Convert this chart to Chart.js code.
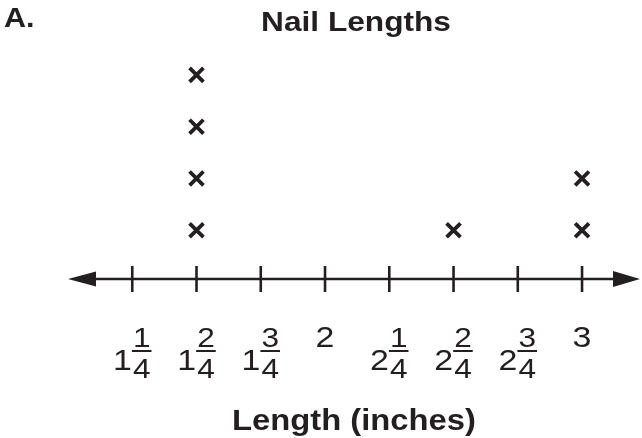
<!DOCTYPE html>
<html>
<head>
<meta charset="utf-8">
<title>Nail Lengths</title>
<script src="https://cdn.jsdelivr.net/npm/chart.js@4/dist/chart.umd.min.js"></script>
<style>
  html, body { margin: 0; padding: 0; background: #fff; }
  #wrap { width: 642px; height: 438px; }
</style>
</head>
<body>
<div id="wrap"><canvas id="plot" width="642" height="438"></canvas></div>
<script>
// --- data ---
const lengths = [1.25, 1.5, 1.75, 2, 2.25, 2.5, 2.75, 3];   // tick values (inches)
const tickWhole = ['1', '1', '1', '2', '2', '2', '2', '3'];
const tickNum = ['1', '2', '3', '', '1', '2', '3', ''];
const tickDen = ['4', '4', '4', '', '4', '4', '4', ''];
const nailCounts = [0, 4, 0, 0, 0, 1, 0, 2];                 // X marks per length

const INK = '#231f20';
const FONT = '"Liberation Sans", Arial, sans-serif';
const SX = 1.13; // the scan is a bit wider than Arial, stretch text to match

// stack of X's: one point per nail
const points = [];
lengths.forEach(function (v, i) {
    for (let k = 1; k <= nailCounts[i]; k++) points.push({ x: v, y: k });
});

function wideText(ctx, str, x, y, font, align) {
    ctx.save();
    ctx.font = font;
    ctx.fillStyle = INK;
    ctx.textAlign = align || 'center';
    ctx.textBaseline = 'alphabetic';
    ctx.translate(x, y);
    ctx.scale(SX, 1);
    ctx.fillText(str, 0, 0);
    ctx.restore();
}

/* number line: arrows + tick marks + mixed-number labels */
const numberLine = {
    id: 'numberLine',
    beforeDatasetsDraw(chart) {
        const ctx = chart.ctx;
        const xs = chart.scales.x;
        const area = chart.chartArea;
        const y0 = 279;
        ctx.save();
        ctx.strokeStyle = INK;
        ctx.fillStyle = INK;
        ctx.lineWidth = 2.6;
        // main line
        ctx.beginPath();
        ctx.moveTo(area.left + 20, y0);
        ctx.lineTo(area.right - 20, y0);
        ctx.stroke();
        // arrow heads
        ctx.beginPath();
        ctx.moveTo(area.left, y0);
        ctx.lineTo(area.left + 28, y0 - 7.5);
        ctx.lineTo(area.left + 28, y0 + 7.5);
        ctx.closePath();
        ctx.fill();
        ctx.beginPath();
        ctx.moveTo(area.right, y0);
        ctx.lineTo(area.right - 27, y0 - 8);
        ctx.lineTo(area.right - 27, y0 + 8);
        ctx.closePath();
        ctx.fill();
        // ticks
        lengths.forEach(function (v) {
            const px = xs.getPixelForValue(v);
            ctx.beginPath();
            ctx.moveTo(px, y0 - 13);
            ctx.lineTo(px, y0 + 13);
            ctx.stroke();
        });
        ctx.restore();
    },
    afterDraw(chart) {
        const ctx = chart.ctx;
        const xs = chart.scales.x;
        const area = chart.chartArea;
        const wholeFont = '30px ' + FONT;
        const fracFont = '28px ' + FONT;
        lengths.forEach(function (v, i) {
            const px = xs.getPixelForValue(v);
            if (!tickNum[i]) {
                wideText(ctx, tickWhole[i], px, 347, wholeFont);
                return;
            }
            ctx.font = wholeFont;
            const w = ctx.measureText(tickWhole[i]).width * SX;
            ctx.font = fracFont;
            const fw = Math.max(ctx.measureText(tickNum[i]).width, ctx.measureText(tickDen[i]).width) * SX;
            const barW = fw + 2;
            const total = w + barW;
            const left = px - total / 2;
            wideText(ctx, tickWhole[i], left, 370, wholeFont, 'left');
            const bx = left + w;
            ctx.save();
            ctx.strokeStyle = INK;
            ctx.lineWidth = 2;
            ctx.beginPath();
            ctx.moveTo(bx, 351);
            ctx.lineTo(bx + barW, 351);
            ctx.stroke();
            ctx.restore();
            wideText(ctx, tickNum[i], bx + barW / 2, 347, fracFont);
            wideText(ctx, tickDen[i], bx + barW / 2, 378, fracFont);
        });
        const cx = (area.left + area.right) / 2;
        wideText(ctx, 'Nail Lengths', cx + 2, 31, 'bold 28px ' + FONT);
        wideText(ctx, 'Length (inches)', cx, 430, 'bold 29px ' + FONT);
        wideText(ctx, 'A.', 4, 27, 'bold 27px ' + FONT, 'left');
    }
};

new Chart(document.getElementById('plot'), {
    type: 'scatter',
    data: {
        datasets: [{
            label: 'Nails',
            data: points,
            pointStyle: 'crossRot',
            pointRadius: 9.8,
            pointHoverRadius: 9.8,
            borderColor: INK,
            backgroundColor: INK,
            pointBorderWidth: 3.8
        }]
    },
    options: {
        responsive: false,
        animation: false,
        events: [],
        layout: { autoPadding: false, padding: { left: 68, right: 2, top: 49, bottom: 156 } },
        plugins: {
            legend: { display: false },
            title: { display: false },
            tooltip: { enabled: false }
        },
        scales: {
            x: { type: 'linear', min: 1, max: 3.2255, display: false },
            y: { min: 0, max: 4.5, display: false }
        }
    },
    plugins: [numberLine]
});
</script>
</body>
</html>
